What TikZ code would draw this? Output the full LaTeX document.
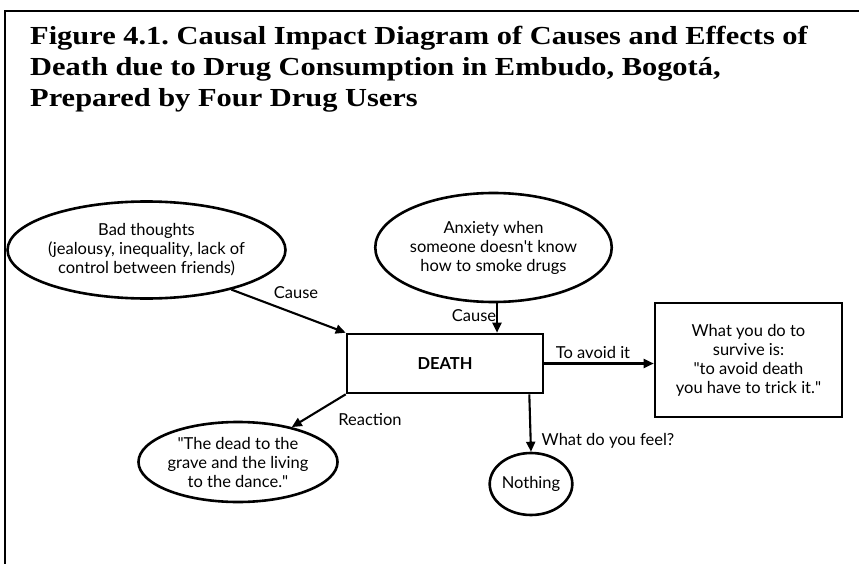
\documentclass[tikz,border=0pt]{standalone}
\usepackage{fontspec}
\setmainfont{Lato}
\newfontfamily\titlefont[FakeStretch=1.17]{Liberation Serif}
\usetikzlibrary{shapes.geometric,arrows.meta,calc}
\begin{document}
\frenchspacing
\begin{tikzpicture}[x=1pt,y=-1pt,
  every node/.style={font=\fontsize{16.5}{19}\selectfont},
  oval/.style={draw,line width=2.6pt,ellipse,inner sep=0pt,align=center},
  panel/.style={draw,line width=2.6pt,rectangle,inner sep=0pt,align=center},
  arr/.style={line width=2.1pt,-{Triangle[length=10pt,width=9pt]}},
  lbl/.style={inner sep=1pt},
  heading/.style={anchor=base west,inner sep=0pt,font=\titlefont\bfseries\fontsize{26}{30}\selectfont}]
\useasboundingbox (0,0) rectangle (859,564);
% page frame
\draw[line width=2.6pt] (5,564) -- (5,11) -- (859,11);
% heading
\node[heading] (t1) at (30,45) {Figure 4.1. Causal Impact Diagram of Causes and Effects of};
\node[heading] (t2) at (30,76) {Death due to Drug Consumption in Embudo, Bogotá,};
\node[heading] (t3) at (30,107) {Prepared by Four Drug Users};
% nodes
\node[oval,minimum width=249pt,minimum height=97pt] (bad) at (146.5,250)
  {Bad thoughts\\(jealousy, inequality, lack of\\control between friends)};
\node[oval,minimum width=233pt,minimum height=109pt] (anx) at (493.5,247.5)
  {Anxiety when\\someone doesn\textquotesingle t know\\how to smoke drugs};
\node[panel,minimum width=196pt,minimum height=59pt,font=\bfseries\fontsize{16.5}{19}\selectfont] (death) at (445,363.5) {DEATH};
\node[panel,minimum width=187pt,minimum height=114pt] (survive) at (748.5,360)
  {What you do to\\survive is:\\\textquotedbl to avoid death\\you have to trick it.\textquotedbl};
\node[oval,minimum width=192pt,minimum height=80pt] (dead) at (238,462)
  {\textquotedbl The dead to the\\grave and the living\\to the dance.\textquotedbl};
\node[oval,minimum width=82pt,minimum height=62pt] (nothing) at (531,484) {Nothing};
\coordinate (feel) at ($(death.south east)+(-15,0)$);
\coordinate (anxfoot) at (497,0);
% connectors
\draw[arr] (bad.-25) -- (death.north west);
\draw[arr] (anx.south -| anxfoot) -- (death.north -| anxfoot);
\draw[arr] (death.east) -- (death.east -| survive.west);
\draw[arr] (death.south west) -- (dead.33);
\draw[arr] (feel) -- (nothing.north);
% connector labels
\node[lbl] (l1) at (296,293) {Cause};
\node[lbl] (l2) at (474,316) {Cause};
\node[lbl] (l3) at (593,352) {To avoid it};
\node[lbl] (l4) at (370,420) {Reaction};
\node[lbl] (l5) at (608,441) {What do you feel?};
\end{tikzpicture}
\end{document}
